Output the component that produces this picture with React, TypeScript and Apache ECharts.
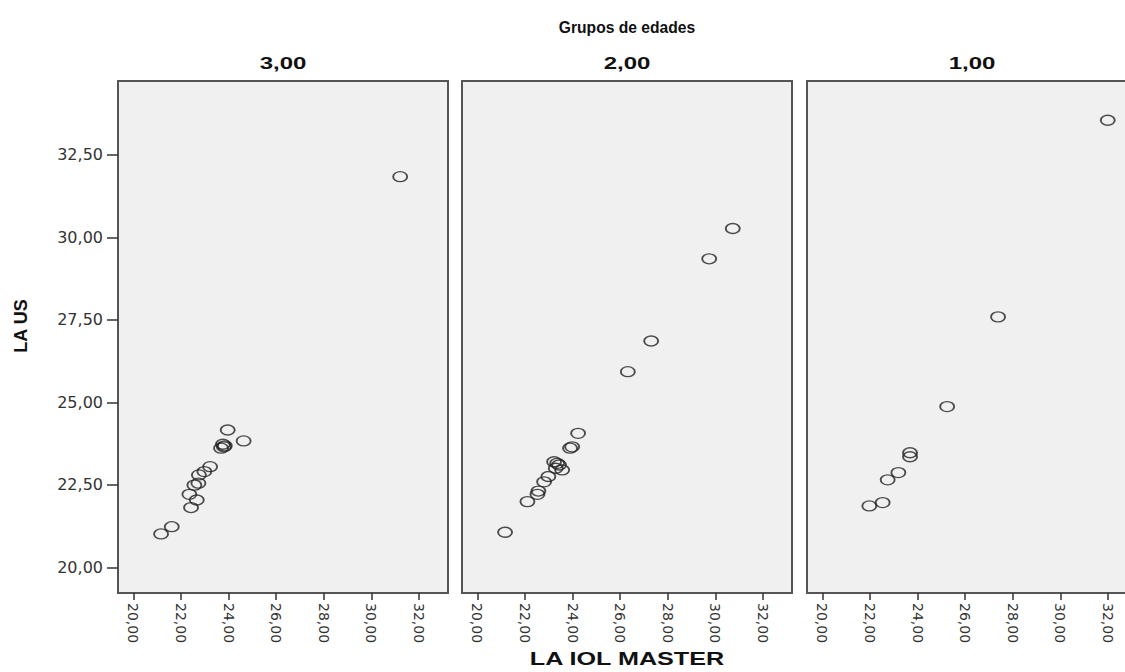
import React, { useEffect, useRef } from "react";
import * as echarts from "echarts";

// ---- data ----
const groupTitles = ["3,00", "2,00", "1,00"];
const xTickValues = [20, 22, 24, 26, 28, 30, 32];
const yTickValues = [20, 22.5, 25, 27.5, 30, 32.5];

const group3X = [31.21, 23.96, 24.63, 23.76, 23.84, 23.68, 23.8, 23.22, 22.98, 22.75, 22.73, 22.56, 22.35, 22.66, 22.42, 21.61, 21.16];
const group3Y = [31.84, 24.16, 23.83, 23.73, 23.68, 23.61, 23.65, 23.05, 22.9, 22.8, 22.55, 22.49, 22.21, 22.04, 21.81, 21.23, 21.01];

const group2X = [30.73, 29.74, 27.3, 26.32, 24.23, 23.98, 23.89, 23.35, 23.43, 23.29, 23.56, 23.22, 22.98, 22.8, 22.56, 22.52, 22.1, 21.16];
const group2Y = [30.27, 29.35, 26.86, 25.93, 24.06, 23.65, 23.61, 23.15, 23.1, 23.0, 22.95, 23.2, 22.75, 22.59, 22.31, 22.21, 21.99, 21.06];

const group1X = [31.99, 27.38, 25.24, 23.68, 23.68, 23.19, 22.74, 22.53, 21.97];
const group1Y = [33.55, 27.59, 24.87, 23.47, 23.35, 22.87, 22.65, 21.96, 21.86];

const groupsX = [group3X, group2X, group1X];
const groupsY = [group3Y, group2Y, group1Y];

const xName = "LA IOL MASTER";
const yName = "LA US";
const facetName = "Grupos de edades";

// ---- layout ----
const panelLefts = [118, 462, 807];
const panelWidth = 330;
const panelTop = 81;
const panelHeight = 512;
const xMin = 19.35;
const xMax = 33.22;
const yMin = 19.22;
const yMax = 34.74;

const fmt = (v: number) => v.toFixed(2).replace(".", ",");
const ellipse = "path://M0,50 A50,50 0 1,1 100,50 A50,50 0 1,1 0,50 Z";

export default function App() {
  const ref = useRef<HTMLDivElement>(null);
  useEffect(() => {
    if (!ref.current) return;
    const chart = echarts.init(ref.current, undefined, { renderer: "svg" });

    const grids = panelLefts.map((left) => ({
      left,
      top: panelTop,
      width: panelWidth,
      height: panelHeight,
      show: true,
      backgroundColor: "#f0f0f0",
      borderColor: "#555",
      borderWidth: 2,
      containLabel: false,
      outerBoundsMode: "none",
    }));

    const xAxes = panelLefts.map((_, i) => ({
      type: "value",
      gridIndex: i,
      min: xMin,
      max: xMax,
      axisLine: { show: false },
      splitLine: { show: false },
      axisTick: {
        show: true,
        length: 7,
        customValues: xTickValues,
        lineStyle: { color: "#333", width: 1.5 },
      },
      axisLabel: {
        show: true,
        rotate: -90,
        margin: 10,
        customValues: xTickValues,
        formatter: (v: number) => fmt(v),
        fontFamily: "DejaVu Sans",
        fontSize: 14,
        color: "#333",
      },
    }));

    const yAxes = panelLefts.map((_, i) => ({
      type: "value",
      gridIndex: i,
      min: yMin,
      max: yMax,
      axisLine: { show: false },
      splitLine: { show: false },
      axisTick: {
        show: i === 0,
        length: 11,
        customValues: yTickValues,
        lineStyle: { color: "#333", width: 1.5 },
      },
      axisLabel: {
        show: i === 0,
        margin: 15,
        customValues: yTickValues,
        formatter: (v: number) => fmt(v),
        fontFamily: "DejaVu Sans",
        fontSize: 16,
        color: "#333",
      },
    }));

    const series = groupsX.map((xs, i) => ({
      type: "scatter",
      xAxisIndex: i,
      yAxisIndex: i,
      symbol: ellipse,
      symbolSize: [14, 10],
      itemStyle: {
        color: "rgba(0,0,0,0)",
        borderColor: "#222",
        borderWidth: 1.6,
      },
      data: xs.map((x, j) => [x, groupsY[i][j]]),
    }));

    const titleStyle = (text: string, size: number) => ({
      text,
      fontFamily: "Liberation Sans",
      fontSize: size,
      fontWeight: "bold",
      fill: "#111",
      align: "center",
      verticalAlign: "middle",
      textAlign: "center",
      textVerticalAlign: "middle",
    });

    const graphic: any[] = [
      { type: "text", x: 627, y: 27, scaleX: 0.92, style: titleStyle(facetName, 17) },
      { type: "text", x: 627, y: 659, scaleX: 1.4, style: titleStyle(xName, 18) },
      { type: "text", x: 21, y: 326, rotation: Math.PI / 2, style: titleStyle(yName, 18) },
      ...groupTitles.map((t, i) => ({
        type: "text",
        x: panelLefts[i] + panelWidth / 2,
        y: 64,
        scaleX: 1.5,
        style: titleStyle(t, 16),
      })),
    ];

    chart.setOption({
      animation: false,
      backgroundColor: "#ffffff",
      grid: grids,
      xAxis: xAxes,
      yAxis: yAxes,
      series,
      graphic,
    } as any);

    return () => chart.dispose();
  }, []);

  return (
    <div
      ref={ref}
      style={{ position: "fixed", left: 0, top: 0, width: 1125, height: 672, background: "#fff" }}
    />
  );
}
